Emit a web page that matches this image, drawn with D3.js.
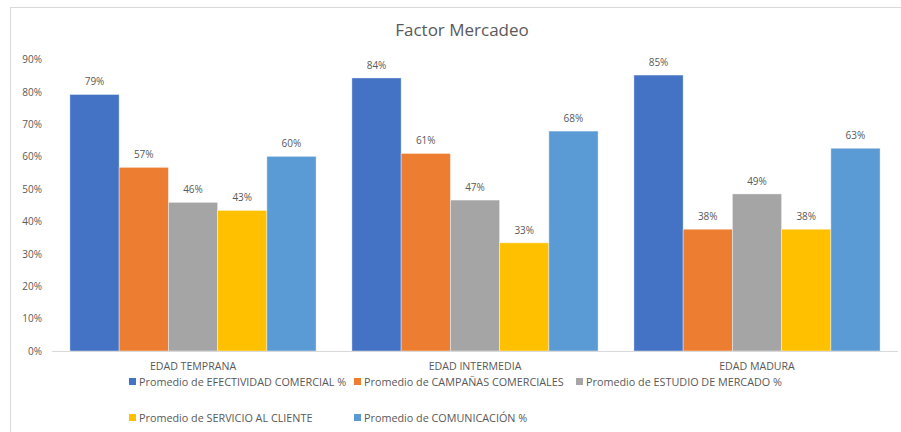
<!DOCTYPE html>
<html>
<head>
<meta charset="utf-8">
<script src="https://cdn.jsdelivr.net/npm/d3@7"></script>
<style>
  body { margin: 0; background: #fff; }
  text { font-family: "Open Sans", "Liberation Sans", sans-serif; fill: #595959; }
</style>
</head>
<body>
<svg id="chart" width="901" height="432"></svg>
<script>
// categories and series (values as fractions)
var categories = ["EDAD TEMPRANA", "EDAD INTERMEDIA", "EDAD MADURA"];
var seriesNames = [
  "Promedio de EFECTIVIDAD COMERCIAL %",
  "Promedio de CAMPAÑAS COMERCIALES",
  "Promedio de ESTUDIO DE MERCADO %",
  "Promedio de SERVICIO AL CLIENTE",
  "Promedio de COMUNICACIÓN %"
];
var efectividad  = [0.792, 0.843, 0.852];
var campanas     = [0.567, 0.610, 0.376];
var estudio      = [0.459, 0.466, 0.485];
var servicio     = [0.434, 0.334, 0.376];
var comunicacion = [0.601, 0.679, 0.626];
var yTicks = [0, 0.1, 0.2, 0.3, 0.4, 0.5, 0.6, 0.7, 0.8, 0.9];

var colors = ["#4472C4", "#ED7D31", "#A5A5A5", "#FFC000", "#5B9BD5"];
var seriesValues = [efectividad, campanas, estudio, servicio, comunicacion];

var svg = d3.select("#chart");

// chart border (only top/left visible, picture is cropped)
svg.append("rect")
  .attr("x", 10.5).attr("y", 7.5)
  .attr("width", 900).attr("height", 430)
  .attr("fill", "none")
  .attr("stroke", "#d9d9d9");

// title
svg.append("text")
  .attr("x", 462).attr("y", 36)
  .attr("text-anchor", "middle")
  .style("font-size", "17px")
  .text("Factor Mercadeo");

var x0 = d3.scaleBand().domain(categories).range([52, 898])
  .paddingInner(0.127).paddingOuter(0.0635);
var x1 = d3.scaleBand().domain(d3.range(seriesNames.length)).range([0, x0.bandwidth()]);
var y = d3.scaleLinear().domain([0, 0.9]).range([351, 59.5]);
var pct = d3.format(".0%");

// y axis labels
var yAxis = svg.append("g")
  .attr("transform", "translate(42,0)")
  .call(d3.axisLeft(y).tickValues(yTicks).tickFormat(pct).tickSize(0).tickPadding(0));
yAxis.select(".domain").remove();
yAxis.selectAll("text").style("font-size", "10px").style("fill", "#595959")
  .style("font-family", "\"Open Sans\", sans-serif");

// bars
var groups = svg.append("g").selectAll("g")
  .data(categories)
  .enter().append("g")
  .attr("transform", function (d) { return "translate(" + x0(d) + ",0)"; });

groups.selectAll("rect")
  .data(function (d, i) { return seriesValues.map(function (s, k) { return { k: k, v: s[i] }; }); })
  .enter().append("rect")
  .attr("x", function (d) { return x1(d.k); })
  .attr("y", function (d) { return y(d.v); })
  .attr("width", x1.bandwidth())
  .attr("height", function (d) { return y(0) - y(d.v); })
  .attr("fill", function (d) { return colors[d.k]; })
  .attr("stroke", "#fff")
  .attr("stroke-opacity", 0.5)
  .attr("stroke-width", 0.8);

groups.selectAll("text.lbl")
  .data(function (d, i) { return seriesValues.map(function (s, k) { return { k: k, v: s[i] }; }); })
  .enter().append("text")
  .attr("class", "lbl")
  .attr("x", function (d) { return x1(d.k) + x1.bandwidth() / 2; })
  .attr("y", function (d) { return y(d.v) - 9; })
  .attr("text-anchor", "middle")
  .style("font-size", "10px")
  .text(function (d) { return pct(d.v); });

// x axis
var xAxis = svg.append("g")
  .attr("transform", "translate(0,351)")
  .call(d3.axisBottom(x0).tickSize(0).tickPadding(11));
xAxis.select(".domain").attr("stroke", "#d9d9d9").attr("d", "M52,0.5H898");
xAxis.selectAll("text").style("font-size", "10.6px").style("fill", "#595959")
  .style("font-family", "\"Open Sans\", sans-serif");

// legend
var legendPos = [[133, 382], [358, 382], [580, 382], [133, 418], [358, 418]];
var legend = svg.append("g").selectAll("g")
  .data(seriesNames)
  .enter().append("g")
  .attr("transform", function (d, i) { return "translate(" + legendPos[i][0] + "," + legendPos[i][1] + ")"; });
legend.append("rect")
  .attr("x", -4).attr("y", -4)
  .attr("width", 7).attr("height", 7)
  .attr("fill", function (d, i) { return colors[i]; });
legend.append("text")
  .attr("x", 6).attr("y", 4)
  .style("font-size", "10.8px")
  .text(function (d) { return d; });
</script>
</body>
</html>
